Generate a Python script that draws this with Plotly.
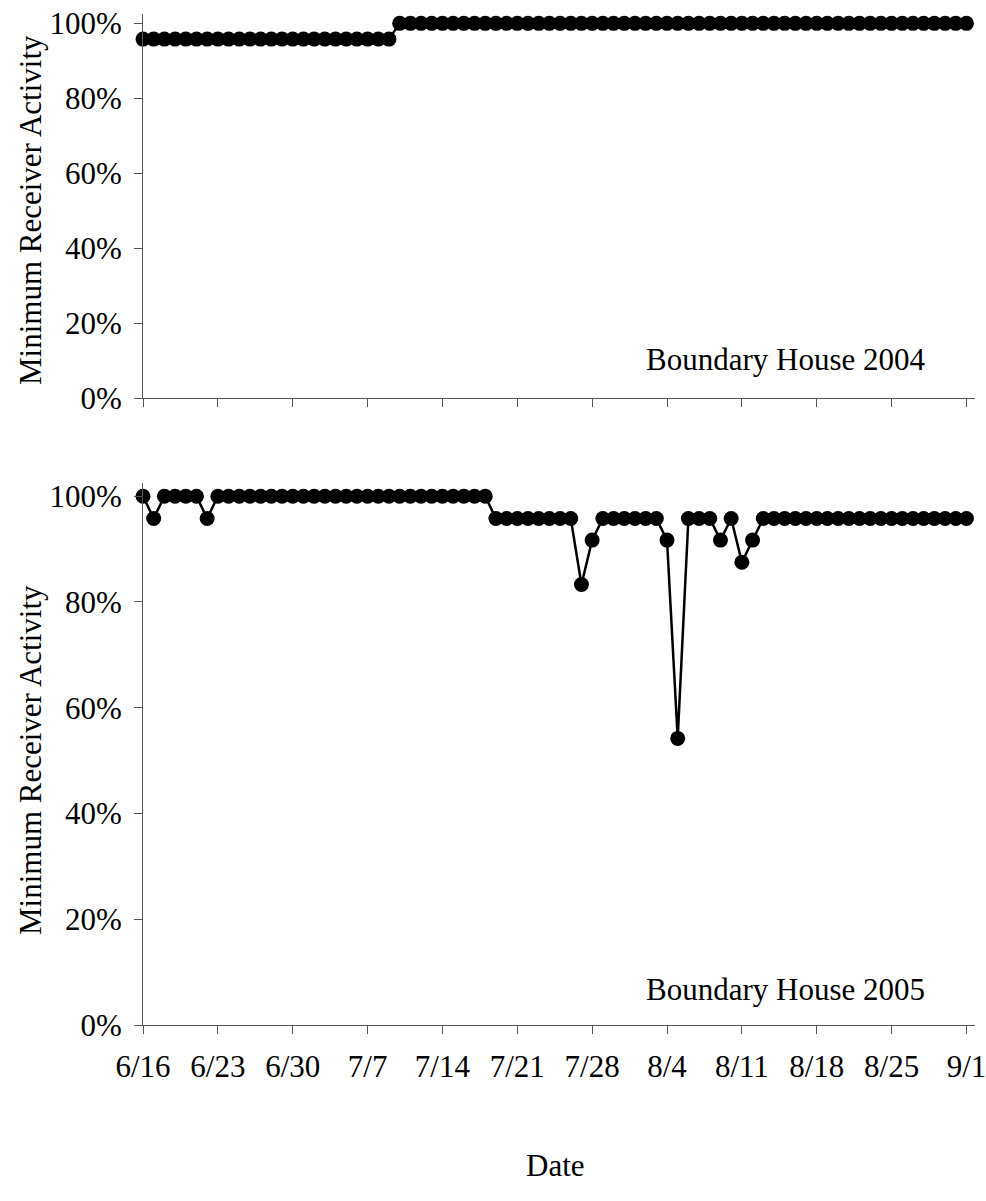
import pandas as pd
import plotly.graph_objects as go
from plotly.subplots import make_subplots

# Daily minimum receiver activity, 16 June - 1 September
days_2004 = pd.date_range("2004-06-16", "2004-09-01", freq="D")
days_2005 = pd.date_range("2005-06-16", "2005-09-01", freq="D")

activity_2004 = [
    0.958, 0.958, 0.958, 0.958, 0.958, 0.958, 0.958, 0.958, 0.958, 0.958,
    0.958, 0.958, 0.958, 0.958, 0.958, 0.958, 0.958, 0.958, 0.958, 0.958,
    0.958, 0.958, 0.958, 0.958, 1.0, 1.0, 1.0, 1.0, 1.0, 1.0,
    1.0, 1.0, 1.0, 1.0, 1.0, 1.0, 1.0, 1.0, 1.0, 1.0,
    1.0, 1.0, 1.0, 1.0, 1.0, 1.0, 1.0, 1.0, 1.0, 1.0,
    1.0, 1.0, 1.0, 1.0, 1.0, 1.0, 1.0, 1.0, 1.0, 1.0,
    1.0, 1.0, 1.0, 1.0, 1.0, 1.0, 1.0, 1.0, 1.0, 1.0,
    1.0, 1.0, 1.0, 1.0, 1.0, 1.0, 1.0, 1.0,
]

activity_2005 = [
    1.0, 0.958, 1.0, 1.0, 1.0, 1.0, 0.958, 1.0, 1.0, 1.0,
    1.0, 1.0, 1.0, 1.0, 1.0, 1.0, 1.0, 1.0, 1.0, 1.0,
    1.0, 1.0, 1.0, 1.0, 1.0, 1.0, 1.0, 1.0, 1.0, 1.0,
    1.0, 1.0, 1.0, 0.958, 0.958, 0.958, 0.958, 0.958, 0.958, 0.958,
    0.958, 0.833, 0.917, 0.958, 0.958, 0.958, 0.958, 0.958, 0.958, 0.917,
    0.542, 0.958, 0.958, 0.958, 0.917, 0.958, 0.875, 0.917, 0.958, 0.958,
    0.958, 0.958, 0.958, 0.958, 0.958, 0.958, 0.958, 0.958, 0.958, 0.958,
    0.958, 0.958, 0.958, 0.958, 0.958, 0.958, 0.958, 0.958,
]

tick_labels = ["6/16", "6/23", "6/30", "7/7", "7/14", "7/21",
               "7/28", "8/4", "8/11", "8/18", "8/25", "9/1"]
y_ticks = [0, 0.2, 0.4, 0.6, 0.8, 1.0]
y_tick_text = ["0%", "20%", "40%", "60%", "80%", "100%"]

# day offsets from 16 June so both seasons share one axis
x_days = list(range(len(days_2004)))
tick_days = list(range(0, 78, 7))

FONT = "Liberation Serif, Times New Roman, serif"
FS = 31
W, H = 986, 1201

fig = make_subplots(rows=2, cols=1)

for row, vals in ((1, activity_2004), (2, activity_2005)):
    fig.add_trace(
        go.Scatter(
            x=x_days, y=vals, mode="lines+markers",
            line=dict(color="black", width=2.5),
            marker=dict(color="black", size=15, symbol="circle"),
            showlegend=False, cliponaxis=False,
        ),
        row=row, col=1,
    )

x_dom = [143 / W, 975 / W]
axis_common = dict(showgrid=False, zeroline=False, showline=True,
                   linecolor="#555", linewidth=1, ticks="outside",
                   tickcolor="#555", ticklen=8, tickwidth=1, automargin=False,
                   ticklabeloverflow="allow",
                   tickfont=dict(family=FONT, size=FS, color="black"))

fig.update_xaxes(range=[0, 77.8], tickvals=tick_days, domain=x_dom,
                 **axis_common)
fig.update_xaxes(showticklabels=False, row=1, col=1)
fig.update_xaxes(ticktext=tick_labels, ticklabelstandoff=6, row=2, col=1)

fig.update_yaxes(range=[0, 1.025], tickvals=y_ticks, ticktext=y_tick_text,
                 ticklabelstandoff=6, **axis_common)
fig.update_yaxes(domain=[1 - 398 / H, 1 - 14 / H], row=1, col=1)
fig.update_yaxes(domain=[1 - 1025 / H, 1 - 483 / H], row=2, col=1)

text_font = dict(family=FONT, size=FS, color="black")
annotations = [
    dict(text="Boundary House 2004", x=785 / W, y=1 - 359 / H),
    dict(text="Boundary House 2005", x=785 / W, y=1 - 990 / H),
    dict(text="Date", x=555 / W, y=1 - 1165 / H),
    dict(text="Minimum Receiver Activity", x=30 / W, y=1 - 210 / H, textangle=-90),
    dict(text="Minimum Receiver Activity", x=30 / W, y=1 - 760 / H, textangle=-90),
]
for a in annotations:
    fig.add_annotation(xref="paper", yref="paper", showarrow=False,
                       xanchor="center", yanchor="middle", font=text_font, **a)

fig.update_layout(
    width=W, height=H,
    margin=dict(l=0, r=0, t=0, b=0),
    paper_bgcolor="white", plot_bgcolor="white",
)

fig.write_html("out.html")
